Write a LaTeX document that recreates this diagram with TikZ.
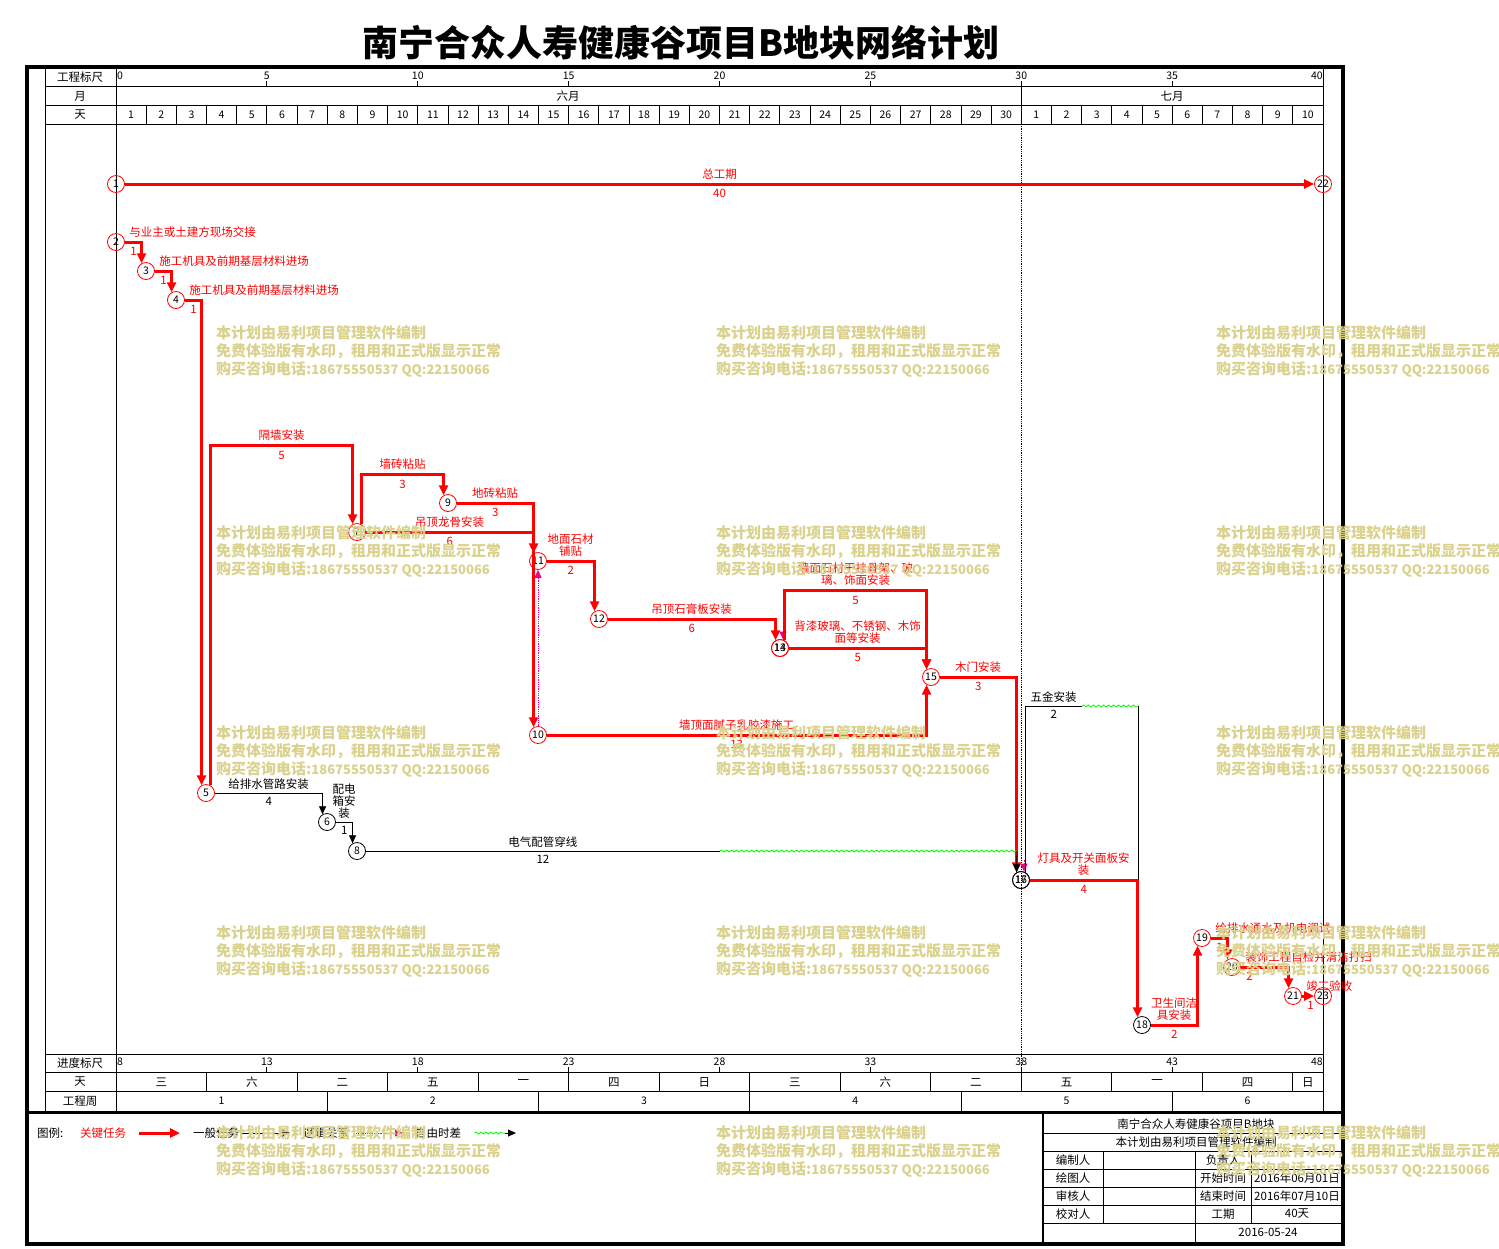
\documentclass[tikz,border=0pt]{standalone}
\usepackage{fontspec}
\setmainfont{Noto Sans CJK SC}
\usetikzlibrary{arrows.meta,decorations.pathmorphing}

\definecolor{wmcolor}{RGB}{218,210,140}
\newcommand\lblfont{\fontsize{11.5}{12}\selectfont}
\newcommand\numfont{\fontsize{10.5}{12}\selectfont}
\newcommand\wmdigits{\fontsize{13}{18}\selectfont}

\tikzset{
  crit/.style={draw=red, line width=3pt, -{Triangle[length=10pt,width=9pt]}},
  norm/.style={draw=black, line width=0.8pt, -{Triangle[length=8pt,width=7pt]}},
  logic/.style={draw=magenta, line width=0.8pt, densely dotted, -{Triangle[length=8pt,width=7pt,fill=magenta]}},
  float/.style={draw=green, line width=0.8pt, decorate, decoration={snake, amplitude=1pt, segment length=5pt}},
  evc/.style={circle, draw=red, line width=0.8pt, minimum size=17pt, inner sep=0pt, font=\numfont},
  evn/.style={evc, draw=black},
  lbc/.style={text=red, font=\lblfont, inner sep=3pt, align=center},
  lbn/.style={lbc, text=black},
  durc/.style={lbc, inner sep=4pt},
  durn/.style={lbn, inner sep=4pt},
  hd/.style={font=\lblfont, inner sep=0pt},
  tbl/.style={draw=black, line width=0.8pt},
  wm/.style={text=wmcolor, font=\fontsize{15}{18}\selectfont\bfseries, align=left, inner sep=0pt},
}

\begin{document}
\begin{tikzpicture}[x=1pt,y=1pt,yscale=-1,xscale=1]
\fill[white] (0,0) rectangle (1499,1248);
\useasboundingbox (0,0) rectangle (1499,1248);

% Title
\node[font=\fontsize{36}{38}\selectfont\bfseries, inner sep=0pt] (title) at (681,43) {南宁合众人寿健康谷项目B地块网络计划};

% Frame and table
\draw[line width=4pt] (27,66.5) rectangle (1343,1244);
\draw[tbl] (45,67) -- (45,1112);
\draw[tbl] (116,67) -- (116,1112);
\draw[tbl] (1323,67) -- (1323,1112);
\foreach \y in {86,105,124,1054,1072,1091} \draw[tbl] (45,\y) -- (1323,\y);
\draw[line width=3pt] (27,1112) -- (1343,1112);
\draw[densely dotted, line width=0.8pt] (1021,124) -- (1021,1072);

% Header labels
\node[hd] (h1) at (80,77) {工程标尺};
\node[hd] (h2) at (80,96) {月};
\node[hd] (h3) at (80,115) {天};
\node[hd] (h4) at (80,1063) {进度标尺};
\node[hd] (h5) at (80,1082) {天};
\node[hd] (h6) at (80,1101) {工程周};

% Scales
\node[hd, anchor=west] (sc0) at (117,76) {\numfont 0};
\node[hd, anchor=east] (sc40) at (1323,76) {\numfont 40};
\node[hd, anchor=west] (bs0) at (117,1062) {\numfont 8};
\node[hd, anchor=east] (bs40) at (1323,1062) {\numfont 48};
\foreach \i in {5,10,...,35} {
  \pgfmathtruncatemacro\bn{\i+8}
  \draw[tbl] ({116+30.175*\i},81) -- ({116+30.175*\i},86);
  \node[hd] (sc\i) at ({116+30.175*\i},76) {\numfont\i};
  \draw[tbl] ({116+30.175*\i},1067) -- ({116+30.175*\i},1072);
  \node[hd] (bs\i) at ({116+30.175*\i},1062) {\numfont\bn};
}

% Months and days
\draw[tbl] (1021,86) -- (1021,105);
\node[hd] (m6) at (568,96) {六月};
\node[hd] (m7) at (1172,96) {七月};
\foreach \d in {1,...,39} \draw[tbl] ({116+30.175*\d},105) -- ++(0,19);
\foreach \d in {1,...,40} {
  \pgfmathtruncatemacro\dn{\d>30 ? \d-30 : \d}
  \node[hd] (d\d) at ({116+30.175*(\d-0.5)},115) {\numfont\dn};
}

% Weekdays and weeks
\foreach \k in {1,...,13} \draw[tbl] ({116+30.175*3*\k},1072) -- ++(0,19);
\foreach \k/\w in {0/三,1/六,2/二,3/五,4/一,5/四,6/日,7/三,8/六,9/二,10/五,11/一,12/四}
  \node[hd] (wd\k) at ({116+30.175*(3*\k+1.5)},1082) {\w};
\node[hd] (wd13) at ({116+30.175*39.5},1082) {日};
\foreach \k in {7,14,21,28,35} \draw[tbl] ({116+30.175*\k},1091) -- (({116+30.175*\k},1112);
\foreach \k/\c in {1/3.5,2/10.5,3/17.5,4/24.5,5/31.5,6/37.5}
  \node[hd] (wk\k) at ({116+30.175*\c},1101) {\numfont\k};

% Events
\node[evc] (n1) at (116,184) {1};
\node[evc] (n22) at (1323,184) {22};
\node[evc] (n2) at (116,242) {2};
\node[evc] (n3) at (146,271) {3};
\node[evc] (n4) at (176,300) {4};
\node[evc] (n5) at (206,793) {5};
\node[evn] (n6) at (327,822) {6};
\node[evc] (n7) at (357,532) {7};
\node[evn] (n8) at (357,851) {8};
\node[evc] (n9) at (448,503) {9};
\node[evc] (n10) at (538,735) {10};
\node[evc] (n11) at (538,561) {11};
\node[evc] (n12) at (599,619) {12};
\node[evc] (n13) at (780,648) {13};
\node[evc] (n14) at (780,648) {14};
\node[evc] (n15) at (931,677) {15};
\node[evn] (n16) at (1021,880) {16};
\node[evn] (n17) at (1021,880) {17};
\node[evn] (n18) at (1142,1025) {18};
\node[evc] (n19) at (1202,938) {19};
\node[evc] (n20) at (1232,967) {20};
\node[evc] (n21) at (1293,996) {21};
\node[evc] (n23) at (1323,996) {23};

% Activities
\draw[crit] (n1) -- node[above,lbc]{总工期} node[below,durc]{40} (n22);
\draw[crit] (n2) -| node[pos=0,above right,lbc]{与业主或土建方现场交接} node[pos=0,below right,durc]{1} (n3.120);
\draw[crit] (n3) -| node[pos=0,above right,lbc]{施工机具及前期基层材料进场} node[pos=0,below right,durc]{1} (n4.120);
\draw[crit] (n4) -| node[pos=0,above right,lbc]{施工机具及前期基层材料进场} node[pos=0,below right,durc]{1} (n5.120);
\draw[crit] (n5.60) -- ++(0,-340) -| node[pos=0.25,above,lbc]{隔墙安装} node[pos=0.25,below,durc]{5} (n7.120);
\draw[norm] (n5) -| node[pos=0.25,above,lbn]{给排水管路安装} node[pos=0.25,below,durn]{4} (n6.120);
\draw[norm] (n6) -| node[pos=0.25,above,lbn]{配电\\箱安\\装} node[pos=0.25,below,durn]{1} (n8.120);
\draw[crit] (n7.60) -- ++(0,-50) -| node[pos=0.25,above,lbc]{墙砖粘贴} node[pos=0.25,below,durc]{3} (n9.120);
\draw[crit] (n9) -| node[pos=0.25,above,lbc]{地砖粘贴} node[pos=0.25,below,durc]{3} (n11.120);
\draw[crit] (n7) -| node[pos=0.25,above,lbc]{吊顶龙骨安装} node[pos=0.25,below,durc]{6} (n10.120);
\draw[logic] (n10) -- (n11);
\draw[crit] (n11) -| node[pos=0.25,above,lbc]{地面石材\\铺贴} node[pos=0.25,below,durc]{2} (n12.120);
\draw[crit] (n12) -| node[pos=0.25,above,lbc]{吊顶石膏板安装} node[pos=0.25,below,durc]{6} (n14.120);
\draw[logic] (n13.70) ++(0,-12) -- (n13.70);
\draw[crit] (n13.60) -- ++(0,-50) -| node[pos=0.25,above,lbc]{墙面石材干挂骨架、玻\\璃、饰面安装} node[pos=0.25,below,durc]{5} (n15.120);
\draw[crit] (n14) -| node[pos=0.25,above,lbc]{背漆玻璃、不锈钢、木饰\\面等安装} node[pos=0.25,below,durc]{5} (n15.120);
\draw[crit] (n10) -| node[pos=0.25,above,lbc]{墙顶面腻子乳胶漆施工} node[pos=0.25,below,durc]{13} (n15.240);
\draw[crit] (n15) -| node[pos=0.25,above,lbc]{木门安装} node[pos=0.25,below,durc]{3} (n16.120);

% Electrical with free float
\coordinate (f8a) at (720,851);
\coordinate (f8b) at (1017,851);
\draw[norm,-] (n8) -- node[above,lbn]{电气配管穿线} node[below,durn]{12} (f8a);
\draw[float] (f8a) -- (f8b);
\draw[norm] (f8b) -- (n16.120);
\draw[logic] (n17.70) ++(0,-12) -- (n17.70);
\draw[crit] (n16) -| node[pos=0.25,above,lbc]{灯具及开关面板安\\装} node[pos=0.25,below,durc]{4} (n18.120);

% Hardware with free float
\coordinate (f17a) at (1082,706);
\coordinate (f17b) at (1138,706);
\draw[norm,-] (n17.60) |- node[pos=0.75,above,lbn]{五金安装} node[pos=0.75,below,durn]{2} (f17a);
\draw[float] (f17a) -- (f17b);
\draw[norm,-] (f17b) -- (f17b |- n16);

\draw[crit] (n18) -| node[pos=0.25,above,lbc]{卫生间洁\\具安装} node[pos=0.25,below,durc]{2} (n19.240);
\draw[crit] (n19) -| node[pos=0,above right,lbc]{给排水通水及机电调试} node[pos=0,below right,durc]{1} (n20.120);
\draw[crit] (n20) -| node[pos=0,above right,lbc]{装饰工程自检并清洁打扫} node[pos=0,below right,durc]{2} (n21.120);
\draw[crit] (n21) -- node[pos=0,above right,lbc]{竣工验收} node[pos=0,below right,durc]{1} (n23);

% Legend
\node[hd, anchor=west] (lg0) at (37,1133) {图例:};
\node[hd, anchor=west, text=red] (lg1) at (80,1133) {关键任务};
\node[hd, anchor=west] (lg2) at (193,1133) {一般任务};
\node[hd, anchor=west] (lg3) at (303,1133) {逻辑关系};
\node[hd, anchor=west] (lg4) at (415,1133) {自由时差};
\coordinate (lgw) at (505,1133);
\coordinate (lg5) at (516,1133);
\draw[crit] ([xshift=13pt]lg1.east) -- ([xshift=-13pt]lg2.west);
\draw[norm] ([xshift=3pt]lg2.east) -- ([xshift=-13pt]lg3.west);
\draw[logic] ([xshift=5pt]lg3.east) -- ([xshift=-12pt]lg4.west);
\draw[float] ([xshift=13pt]lg4.east) -- (lgw);
\draw[norm] (lgw) -- (lg5);

% Title block
\draw[line width=2.5pt] (1043,1112) -- (1043,1244);
\foreach \y in {1133,1151,1169,1187,1205,1223} \draw[tbl] (1043,\y) -- (1343,\y);
\draw[tbl] (1103,1151) -- (1103,1223);
\draw[tbl] (1195,1151) -- (1195,1244);
\draw[tbl] (1251,1151) -- (1251,1223);
\node[hd] (tb1) at (1196,1124) {南宁合众人寿健康谷项目B地块};
\node[hd] (tb2) at (1196,1142) {本计划由易利项目管理软件编制};
\node[hd] (tb3) at (1073,1160) {编制人};
\node[hd] (tb4) at (1073,1178) {绘图人};
\node[hd] (tb5) at (1073,1196) {审核人};
\node[hd] (tb6) at (1073,1214) {校对人};
\node[hd] (tb7) at (1223,1160) {负责人};
\node[hd] (tb8) at (1223,1178) {开始时间};
\node[hd] (tb9) at (1223,1196) {结束时间};
\node[hd] (tb10) at (1223,1214) {工期};
\node[hd] (tb11) at (1297,1178) {2016年06月01日};
\node[hd] (tb12) at (1297,1196) {2016年07月10日};
\node[hd] (tb13) at (1297,1214) {40天};
\node[hd] (tb14) at (1268,1232) {2016-05-24};

% Watermarks
\foreach \wx in {216,716,1216}
  \foreach \wy in {325,525,725,925,1125}
    \node[wm, anchor=north west] (wm\wx-\wy) at (\wx,\wy) {本计划由易利项目管理软件编制\\免费体验版有水印，租用和正式版显示正常\\购买咨询电话:{\wmdigits 18675550537 QQ:22150066}};

\end{tikzpicture}
\end{document}
